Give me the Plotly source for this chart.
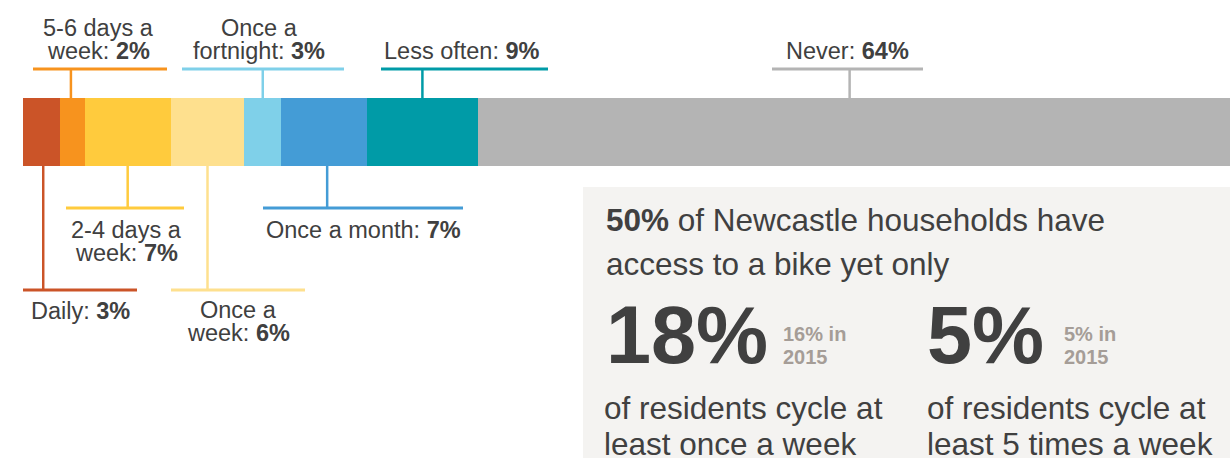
import plotly.graph_objects as go

# ---------------- data ----------------
categories = ["Daily", "5-6 days a week", "2-4 days a week", "Once a week",
              "Once a fortnight", "Once a month", "Less often", "Never"]
shares = [3, 2, 7, 6, 3, 7, 9, 64]
label_heads = [["Daily:"], ["5-6 days a", "week:"], ["2-4 days a", "week:"],
               ["Once a", "week:"], ["Once a", "fortnight:"], ["Once a month:"],
               ["Less often:"], ["Never:"]]
households_bike = 50
weekly_now, weekly_2015 = 18, 16
five_now, five_2015 = 5, 5

# ---------------- style ----------------
colors = ["#CB5428", "#F7931E", "#FFCB3D", "#FEE08E", "#7FD0E9", "#449CD6", "#009BA7", "#B4B4B4"]
W, H = 1230, 458
X0, K = 23.3, 12.28          # px of 0%, px per 1%
BAR_Y, BAR_H = 132, 68
TEXT = "#404040"
FONT = "Liberation Sans, Arial, Helvetica, sans-serif"
LS = 23.5                    # label font size
# side, bracket y, bracket x0, x1, text centre x, first-line centre y, tick dx
label_layout = [
    ("below", 290, 23, 137, 80, 311, 1.5),
    ("above", 69, 33, 167, 98, 28, -1.5),
    ("below", 208, 66, 184, 126, 230, 0),
    ("below", 290, 171, 305, 238, 310, 0),
    ("above", 69, 182, 344, 259, 28, 0),
    ("below", 208, 263, 463, 363, 230, 3),
    ("above", 69, 381, 548, 462, 51, 0),
    ("above", 69, 772, 923, 847, 51, -21),
]

fig = go.Figure()
for name, v, c in zip(categories, shares, colors):
    fig.add_trace(go.Bar(y=[BAR_Y], x=[v], orientation="h", width=BAR_H,
                         marker=dict(color=c, line=dict(width=0)), name=name,
                         hoverinfo="name+x"))

xmin = -X0 / K
xmax = (W - X0) / K
def px2x(px):
    return (px - X0) / K

shapes, annotations = [], []
# info panel background
shapes.append(dict(type="rect", xref="x", yref="y", x0=px2x(583), x1=px2x(W + 5),
                   y0=187, y1=H + 5, fillcolor="#F4F3F1", line=dict(width=0), layer="below"))

cum = 0
for name, v, c, heads, lay in zip(categories, shares, colors, label_heads, label_layout):
    side, by, bx0, bx1, tx, ty, tdx = lay
    centre = cum + v / 2 + tdx / K
    cum += v
    top, bot = BAR_Y - BAR_H / 2, BAR_Y + BAR_H / 2
    ya, yb = (by, top) if side == "above" else (bot, by)
    shapes.append(dict(type="line", xref="x", yref="y", x0=centre, x1=centre,
                       y0=ya, y1=yb, line=dict(color=c, width=2.5)))
    shapes.append(dict(type="line", xref="x", yref="y", x0=px2x(bx0), x1=px2x(bx1),
                       y0=by, y1=by, line=dict(color=c, width=3)))
    lines = list(heads)
    lines[-1] = f"{lines[-1]} <b>{v}%</b>"
    for i, ln in enumerate(lines):
        annotations.append(dict(x=px2x(tx), y=ty + i * 23, xref="x", yref="y",
                                text=ln, showarrow=False, xanchor="center", yanchor="middle",
                                font=dict(size=LS, color=TEXT, family=FONT)))

# panel text
PF = 31.5
annotations += [
    dict(x=px2x(604), y=220, text=f"<b>{households_bike}%</b> of Newcastle households have",
         xanchor="left", yanchor="middle", font=dict(size=PF)),
    dict(x=px2x(604), y=264, text="access to a bike yet only",
         xanchor="left", yanchor="middle", font=dict(size=PF)),
    dict(x=px2x(604), y=335, text=f"<b>{weekly_now}%</b>",
         xanchor="left", yanchor="middle", font=dict(size=81)),
    dict(x=px2x(781), y=334, text=f"<b>{weekly_2015}% in</b>",
         xanchor="left", yanchor="middle", font=dict(size=20, color="#A59D97")),
    dict(x=px2x(781), y=357, text="<b>2015</b>",
         xanchor="left", yanchor="middle", font=dict(size=20, color="#A59D97")),
    dict(x=px2x(602), y=408, text="of residents cycle at",
         xanchor="left", yanchor="middle", font=dict(size=PF)),
    dict(x=px2x(602), y=444, text="least once a week",
         xanchor="left", yanchor="middle", font=dict(size=PF)),
    dict(x=px2x(925), y=335, text=f"<b>{five_now}%</b>",
         xanchor="left", yanchor="middle", font=dict(size=81)),
    dict(x=px2x(1062), y=334, text=f"<b>{five_2015}% in</b>",
         xanchor="left", yanchor="middle", font=dict(size=20, color="#A59D97")),
    dict(x=px2x(1062), y=357, text="<b>2015</b>",
         xanchor="left", yanchor="middle", font=dict(size=20, color="#A59D97")),
    dict(x=px2x(925), y=408, text="of residents cycle at",
         xanchor="left", yanchor="middle", font=dict(size=PF)),
    dict(x=px2x(925), y=444, text="least 5 times a week",
         xanchor="left", yanchor="middle", font=dict(size=PF)),
]
for a in annotations[-12:]:
    a.update(xref="x", yref="y", showarrow=False)
    a["font"].setdefault("color", TEXT)
    a["font"]["family"] = FONT

fig.update_layout(
    width=W, height=H, margin=dict(l=0, r=0, t=0, b=0),
    paper_bgcolor="white", plot_bgcolor="white",
    barmode="stack", bargap=0, showlegend=False,
    xaxis=dict(range=[xmin, xmax], visible=False, fixedrange=True),
    yaxis=dict(range=[H, 0], visible=False, fixedrange=True),
    shapes=shapes, annotations=annotations,
    font=dict(family=FONT, color=TEXT),
)
fig.write_html("out.html", config={"displayModeBar": False},
               post_script="document.body.style.margin='0';document.body.style.overflow='hidden';")
